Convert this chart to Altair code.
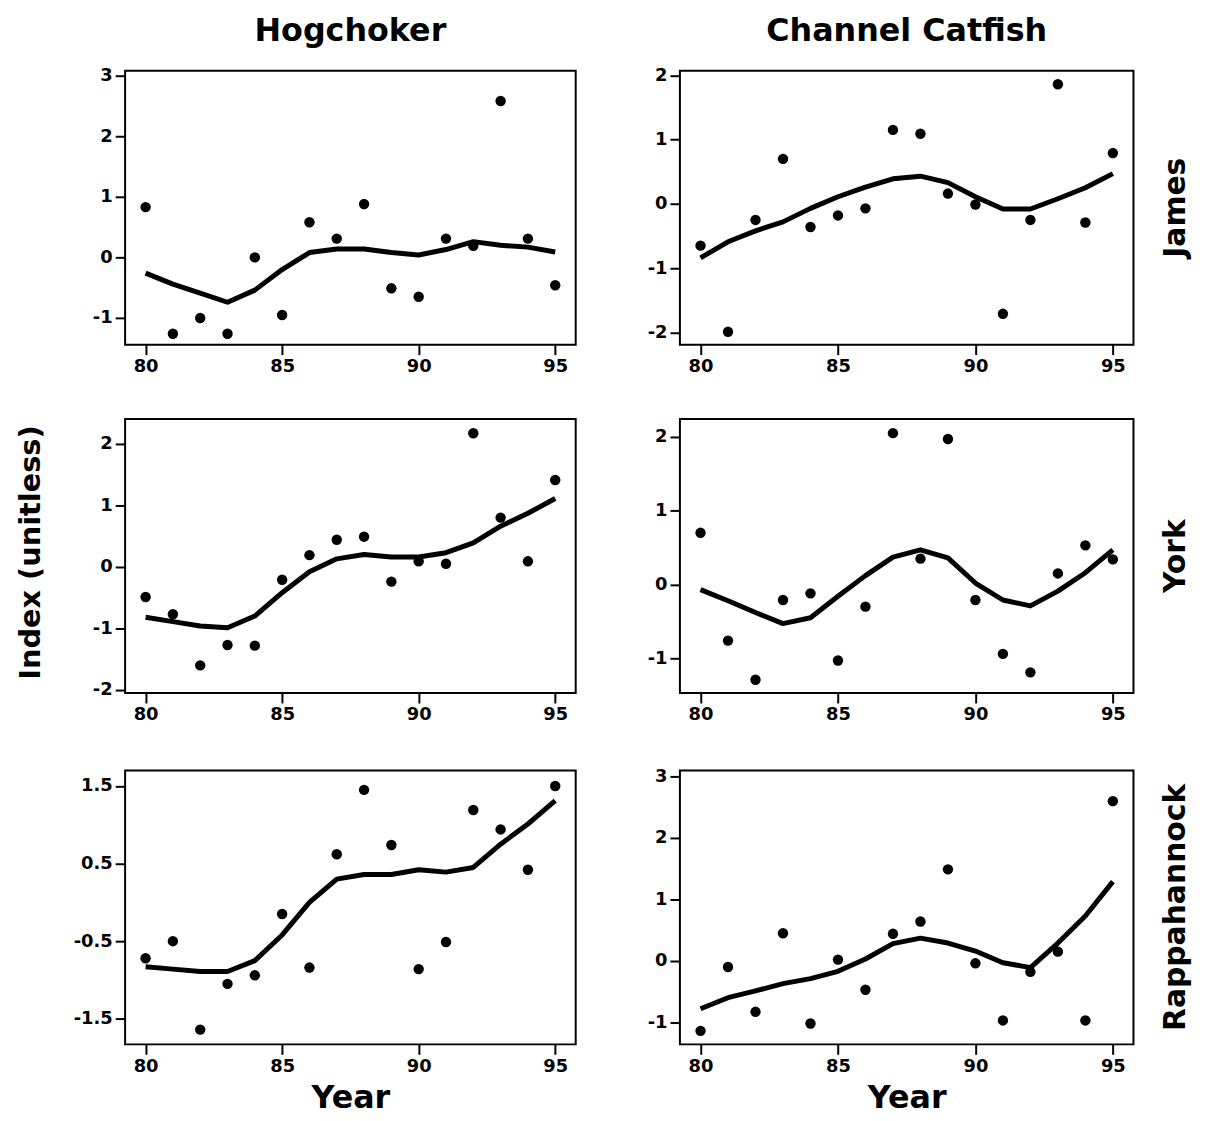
import altair as alt
import pandas as pd

years = list(range(80, 96))

hog_james_pts = [0.83, -1.26, -1.0, -1.26, 0.0, -0.95, 0.58, 0.31, 0.88, -0.51, -0.65, 0.31, 0.19, 2.58, 0.31, -0.46]
hog_james_fit = [-0.26, -0.44, -0.59, -0.74, -0.54, -0.2, 0.08, 0.14, 0.14, 0.08, 0.04, 0.13, 0.26, 0.2, 0.17, 0.09]

cat_james_pts = [-0.65, -1.99, -0.25, 0.70, -0.36, -0.18, -0.07, 1.15, 1.09, 0.16, -0.01, -1.71, -0.25, 1.86, -0.29, 0.79]
cat_james_fit = [-0.84, -0.59, -0.42, -0.28, -0.07, 0.11, 0.26, 0.39, 0.43, 0.33, 0.11, -0.08, -0.08, 0.08, 0.25, 0.47]

hog_york_pts = [-0.49, -0.77, -1.60, -1.27, -1.28, -0.21, 0.19, 0.44, 0.49, -0.24, 0.09, 0.05, 2.17, 0.80, 0.09, 1.41]
hog_york_fit = [-0.82, -0.89, -0.96, -0.99, -0.80, -0.42, -0.08, 0.13, 0.20, 0.16, 0.16, 0.23, 0.39, 0.66, 0.87, 1.11]

cat_york_pts = [0.70, -0.76, -1.29, -0.21, -0.12, -1.03, -0.30, 2.05, 0.35, 1.97, -0.21, -0.94, -1.19, 0.15, 0.53, 0.34]
cat_york_fit = [-0.07, -0.22, -0.38, -0.53, -0.45, -0.16, 0.12, 0.37, 0.47, 0.36, 0.02, -0.21, -0.29, -0.09, 0.16, 0.47]

hog_rapp_pts = [-0.72, -0.50, -1.64, -1.05, -0.94, -0.15, -0.84, 0.62, 1.45, 0.74, -0.86, -0.51, 1.19, 0.94, 0.42, 1.50]
hog_rapp_fit = [-0.83, -0.86, -0.89, -0.89, -0.75, -0.42, 0.00, 0.30, 0.36, 0.36, 0.42, 0.39, 0.45, 0.75, 1.01, 1.31]

cat_rapp_pts = [-1.14, -0.10, -0.83, 0.45, -1.02, 0.02, -0.47, 0.44, 0.64, 1.49, -0.04, -0.97, -0.18, 0.15, -0.97, 2.60]
cat_rapp_fit = [-0.78, -0.60, -0.49, -0.37, -0.29, -0.17, 0.03, 0.28, 0.37, 0.29, 0.16, -0.03, -0.11, 0.29, 0.73, 1.29]

x_domain = [79.25, 95.75]
x_ticks = [80, 85, 90, 95]

y_domains = {
    "hj": [-1.44, 3.08], "cj": [-2.19, 2.07],
    "hy": [-2.05, 2.40], "cy": [-1.47, 2.24],
    "hr": [-1.83, 1.70], "cr": [-1.36, 3.10],
}
y_ticks = {
    "hj": [-1, 0, 1, 2, 3], "cj": [-2, -1, 0, 1, 2],
    "hy": [-2, -1, 0, 1, 2], "cy": [-1, 0, 1, 2],
    "hr": [-1.5, -0.5, 0.5, 1.5], "cr": [-1, 0, 1, 2, 3],
}

FONT = "DejaVu Sans"
H = 276


def panel(key, pts, fit, width, title=None, xtitle=None, ytitle=None, rowlabel=None):
    df = pd.DataFrame({"year": years, "value": pts, "fit": fit})
    base = alt.Chart(df)
    x = alt.X("year:Q", scale=alt.Scale(domain=x_domain, nice=False, zero=False),
              axis=alt.Axis(values=x_ticks, labelExpr="'' + datum.value",
                            title=xtitle if xtitle else None,
                            titleFontSize=32, titleFont=FONT, titleFontWeight="bold",
                            titlePadding=8))
    yaxis_kwargs = dict(values=y_ticks[key], labelExpr="'' + datum.value")
    if ytitle:
        yaxis_kwargs.update(title=ytitle, titleFontSize=29, titleFont=FONT,
                            titleFontWeight="bold", titleX=-95, titleY=H / 2 - 4,
                            titleAngle=270, titleAlign="center", titleBaseline="middle")
    else:
        yaxis_kwargs.update(title=None)
    yscale = alt.Scale(domain=y_domains[key], nice=False, zero=False)
    line = base.mark_line(color="black", strokeWidth=5, strokeJoin="round").encode(
        x=x, y=alt.Y("fit:Q", scale=yscale, axis=alt.Axis(**yaxis_kwargs)))
    pts_l = base.mark_circle(color="black", opacity=1, size=110).encode(
        x=x, y=alt.Y("value:Q", scale=yscale))
    layers = [line, pts_l]
    if rowlabel:
        lab = alt.Chart(pd.DataFrame({"label": [rowlabel]})).mark_text(
            font=FONT, fontWeight="bold", fontSize=30, angle=270,
            align="center", baseline="middle", color="black").encode(
            text="label:N", x=alt.value(width + 43), y=alt.value(H / 2))
        layers.append(lab)
    ch = alt.layer(*layers).properties(width=width, height=H)
    if title:
        ch = ch.properties(title=alt.TitleParams(title, fontSize=32, font=FONT,
                                                 fontWeight="bold", color="black",
                                                 offset=19, anchor="middle"))
    return ch


W1, W2 = 454, 457
p1 = panel("hj", hog_james_pts, hog_james_fit, W1, title="Hogchoker")
p2 = panel("cj", cat_james_pts, cat_james_fit, W2, title="Channel Catfish", rowlabel="James")
p3 = panel("hy", hog_york_pts, hog_york_fit, W1, ytitle="Index (unitless)")
p4 = panel("cy", cat_york_pts, cat_york_fit, W2, rowlabel="York")
p5 = panel("hr", hog_rapp_pts, hog_rapp_fit, W1, xtitle="Year")
p6 = panel("cr", cat_rapp_pts, cat_rapp_fit, W2, xtitle="Year", rowlabel="Rappahannock")

chart = alt.concat(p1, p2, p3, p4, p5, p6, columns=2,
                   spacing={"row": 42, "column": 70}).properties(
    padding={"left": 8, "top": 1, "right": 5, "bottom": 5}
).configure(background="white").configure_view(
    stroke="black", strokeWidth=2
).configure_axis(
    labelFont=FONT, labelFontWeight="bold", labelFontSize=18, labelColor="black",
    tickColor="black", tickSize=10, tickWidth=2, domain=False, grid=False,
    labelPadding=3, titleColor="black"
)

chart.save("out.html", embed_options={"renderer": "svg", "actions": False})
